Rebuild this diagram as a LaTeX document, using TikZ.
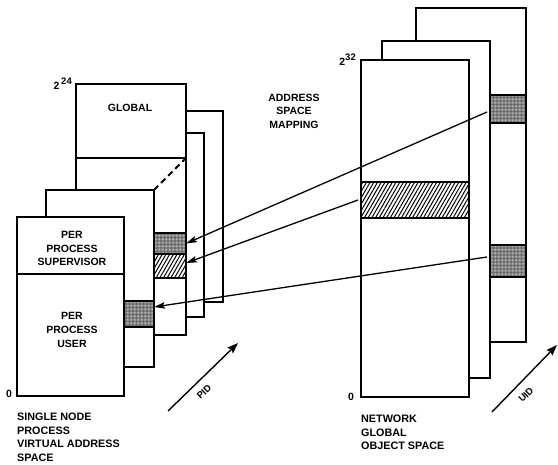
\documentclass[tikz,border=0pt]{standalone}
\usepackage{fontspec}
\setmainfont{Liberation Sans}
\usetikzlibrary{patterns.meta,arrows.meta}
\begin{document}
\begin{tikzpicture}[x=1pt,y=-1pt,
  page/.style={draw,line width=1.9pt,fill=white},
  lbl/.style={font=\bfseries\fontsize{10.5}{13.6}\selectfont,inner sep=0pt,align=center},
  axlbl/.style={font=\bfseries\fontsize{9.5}{10}\selectfont,inner sep=0pt,rotate=44},
  captxt/.style={font=\bfseries\fontsize{10.8}{13.6}\selectfont,inner sep=0pt,align=left,anchor=north west},
  blk/.style={draw,line width=1.4pt,inner sep=0pt,outer sep=0pt,anchor=north west},
  dotblk/.style={blk,preaction={fill=black!62},pattern={Dots[distance=1.4pt,radius=0.38pt]},pattern color=white},
  hatblk/.style={blk,fill=white,postaction={pattern={Lines[angle=60,distance=3.2pt,line width=1pt]}}},
  arr/.style={line width=1.3pt,-{Stealth[length=11pt,width=6.5pt,inset=2pt]}},
  axarr/.style={line width=1.4pt,-{Stealth[length=11pt,width=8pt,inset=2pt]}}]
\useasboundingbox (0,0) rectangle (558,465);

% ---- left stack (back to front)
\draw[page] (120,111) rectangle (223,302);
\draw[page] (110,133) rectangle (204,317);
\draw[page] (76,84) rectangle (186,335);
\draw[line width=1.9pt] (76,158) -- (186,158);
\node[lbl] (global) at (130,107.5) {GLOBAL};
\node[dotblk,minimum width=32pt,minimum height=21pt] (lb1) at (154,233) {};
\node[hatblk,minimum width=32pt,minimum height=24pt] (lh) at (154,254) {};
\draw[page] (46,190) rectangle (154,367);
\draw[line width=1.9pt,dash pattern=on 6pt off 4pt] (154,190) -- (186,158);
\node[dotblk,minimum width=30pt,minimum height=26pt] (lb3) at (124,301) {};
\draw[page] (17,217) rectangle (124,396);
\draw[line width=1.9pt] (17,274) -- (124,274);
\node[lbl] (sup) at (72,248.5) {PER\\PROCESS\\SUPERVISOR};
\node[lbl] (usr) at (72,330) {PER\\PROCESS\\USER};
\node[lbl,anchor=base east] (p24) at (72,90) {2\,\raisebox{5pt}{\fontsize{9.5}{10}\selectfont 24}};
\node[lbl] (zl) at (9,394) {0};

% ---- right stack
\draw[page] (416,8) rectangle (526,342);
\node[dotblk,minimum width=36pt,minimum height=28pt] (rb1) at (490,95) {};
\node[dotblk,minimum width=36pt,minimum height=32pt] (rb2) at (490,245) {};
\draw[page] (382,41) rectangle (490,378);
\draw[page] (361,60) rectangle (469,397);
\node[hatblk,minimum width=108pt,minimum height=36pt] (rh) at (361,182) {};
\node[lbl,anchor=base east] (p32) at (356,66) {2\raisebox{5pt}{\fontsize{9.5}{10}\selectfont 32}};
\node[lbl] (zr) at (351,397) {0};

\node[lbl] (asm) at (294,111) {ADDRESS\\SPACE\\MAPPING};

% ---- mapping arrows
\draw[arr] ([xshift=-3pt,yshift=-3pt]rb1.west) -- (lb1.east);
\draw[arr] ([xshift=-3pt]rh.west) -- ([yshift=3pt]lh.east);
\draw[arr] ([xshift=-3pt,yshift=4pt]rb2.west) -- ([yshift=7pt]lb3.east);

% ---- axes
\coordinate (pid0) at (168,411);
\coordinate (pid1) at (238,343);
\draw[axarr] (pid0) -- (pid1);
\node[axlbl] (pidl) at (204,392) {PID};
\coordinate (uid0) at (492,412);
\coordinate (uid1) at (557,345);
\draw[axarr] (uid0) -- (uid1);
\node[axlbl] (uidl) at (526,395) {UID};

% ---- captions
\node[captxt] (c1) at (17,413) {SINGLE NODE\\PROCESS\\VIRTUAL ADDRESS\\SPACE};
\node[captxt] (c2) at (361,415) {NETWORK\\GLOBAL\\OBJECT SPACE};
\end{tikzpicture}
\end{document}
